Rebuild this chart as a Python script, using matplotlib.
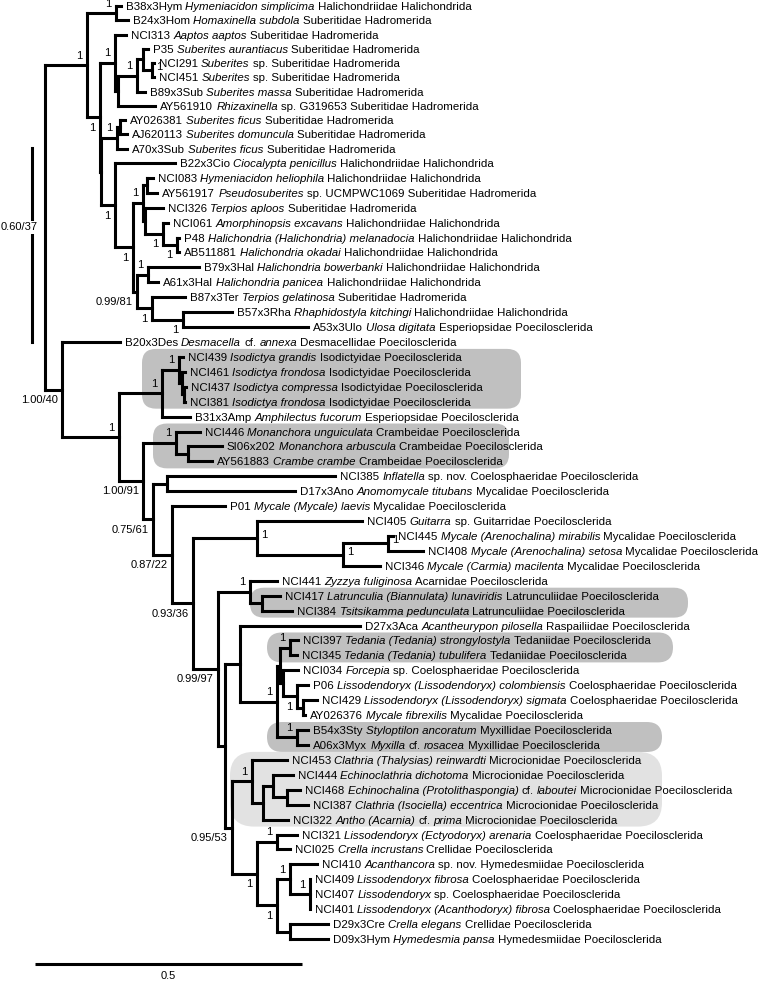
import matplotlib
matplotlib.use('Agg')
import matplotlib.pyplot as plt
from matplotlib.patches import FancyBboxPatch
from matplotlib.collections import LineCollection

plt.rcParams['font.family'] = ['Liberation Sans', 'DejaVu Sans']

# ---------------- data ----------------
leaf_code = ['B38x3Hym', 'B24x3Hom', 'NCI313', 'P35', 'NCI291', 'NCI451', 'B89x3Sub', 'AY561910',
             'AY026381', 'AJ620113', 'A70x3Sub', 'B22x3Cio', 'NCI083', 'AY561917', 'NCI326', 'NCI061',
             'P48', 'AB511881', 'B79x3Hal', 'A61x3Hal', 'B87x3Ter', 'B57x3Rha', 'A53x3Ulo', 'B20x3Des',
             'NCI439', 'NCI461', 'NCI437', 'NCI381', 'B31x3Amp', 'NCI446', 'SI06x202', 'AY561883',
             'NCI385', 'D17x3Ano', 'P01', 'NCI405', 'NCI445', 'NCI408', 'NCI346', 'NCI441',
             'NCI417', 'NCI384', 'D27x3Aca', 'NCI397', 'NCI345', 'NCI034', 'P06', 'NCI429',
             'AY026376', 'B54x3Sty', 'A06x3Myx', 'NCI453', 'NCI444', 'NCI468', 'NCI387', 'NCI322',
             'NCI321', 'NCI025', 'NCI410', 'NCI409', 'NCI407', 'NCI401', 'D29x3Cre', 'D09x3Hym']
leaf_taxon = ['*Hymeniacidon simplicima*', '*Homaxinella subdola*', '*Aaptos aaptos*', '*Suberites aurantiacus*',
              '*Suberites* sp.', '*Suberites* sp.', '*Suberites massa*', '*Rhizaxinella* sp. G319653',
              '*Suberites ficus*', '*Suberites domuncula*', '*Suberites ficus*', '*Ciocalypta penicillus*',
              '*Hymeniacidon heliophila*', '*Pseudosuberites* sp. UCMPWC1069', '*Terpios aploos*',
              '*Amorphinopsis excavans*', '*Halichondria (Halichondria) melanadocia*', '*Halichondria okadai*',
              '*Halichondria bowerbanki*', '*Halichondria panicea*', '*Terpios gelatinosa*',
              '*Rhaphidostyla kitchingi*', '*Ulosa digitata*', '*Desmacella* cf. *annexa*',
              '*Isodictya grandis*', '*Isodictya frondosa*', '*Isodictya compressa*', '*Isodictya frondosa*',
              '*Amphilectus fucorum*', '*Monanchora unguiculata*', '*Monanchora arbuscula*', '*Crambe crambe*',
              '*Inflatella* sp. nov.', '*Anomomycale titubans*', '*Mycale (Mycale) laevis*', '*Guitarra* sp.',
              '*Mycale (Arenochalina) mirabilis*', '*Mycale (Arenochalina) setosa*', '*Mycale (Carmia) macilenta*',
              '*Zyzzya fuliginosa*', '*Latrunculia (Biannulata) lunaviridis*', '*Tsitsikamma pedunculata*',
              '*Acantheurypon pilosella*', '*Tedania (Tedania) strongylostyla*', '*Tedania (Tedania) tubulifera*',
              '*Forcepia* sp.', '*Lissodendoryx (Lissodendoryx) colombiensis*', '*Lissodendoryx (Lissodendoryx) sigmata*',
              '*Mycale fibrexilis*', '*Styloptilon ancoratum*', '*Myxilla* cf. *rosacea*',
              '*Clathria (Thalysias) reinwardti*', '*Echinoclathria dichotoma*',
              '*Echinochalina (Protolithaspongia)* cf. *laboutei*', '*Clathria (Isociella) eccentrica*',
              '*Antho (Acarnia)* cf. *prima*', '*Lissodendoryx (Ectyodoryx) arenaria*', '*Crella incrustans*',
              '*Acanthancora* sp. nov.', '*Lissodendoryx fibrosa*', '*Lissodendoryx* sp.',
              '*Lissodendoryx (Acanthodoryx) fibrosa*', '*Crella elegans*', '*Hymedesmia pansa*']
leaf_family = ['Halichondriidae', 'Suberitidae', 'Suberitidae', 'Suberitidae', 'Suberitidae', 'Suberitidae',
               'Suberitidae', 'Suberitidae', 'Suberitidae', 'Suberitidae', 'Suberitidae', 'Halichondriidae',
               'Halichondriidae', 'Suberitidae', 'Suberitidae', 'Halichondriidae', 'Halichondriidae',
               'Halichondriidae', 'Halichondriidae', 'Halichondriidae', 'Suberitidae', 'Halichondriidae',
               'Esperiopsidae', 'Desmacellidae', 'Isodictyidae', 'Isodictyidae', 'Isodictyidae', 'Isodictyidae',
               'Esperiopsidae', 'Crambeidae', 'Crambeidae', 'Crambeidae', 'Coelosphaeridae', 'Mycalidae',
               'Mycalidae', 'Guitarridae', 'Mycalidae', 'Mycalidae', 'Mycalidae', 'Acarnidae', 'Latrunculiidae',
               'Latrunculiidae', 'Raspailiidae', 'Tedaniidae', 'Tedaniidae', 'Coelosphaeridae', 'Coelosphaeridae',
               'Coelosphaeridae', 'Mycalidae', 'Myxillidae', 'Myxillidae', 'Microcionidae', 'Microcionidae',
               'Microcionidae', 'Microcionidae', 'Microcionidae', 'Coelosphaeridae', 'Crellidae', 'Hymedesmiidae',
               'Coelosphaeridae', 'Coelosphaeridae', 'Coelosphaeridae', 'Crellidae', 'Hymedesmiidae']
leaf_order = (['Halichondrida'] + ['Hadromerida'] * 10 + ['Halichondrida'] * 2 + ['Hadromerida'] * 2
              + ['Halichondrida'] * 5 + ['Hadromerida', 'Halichondrida'] + ['Poecilosclerida'] * 42)
leaf_depth = [0.142, 0.155, 0.152, 0.193, 0.204, 0.204, 0.187, 0.206,
              0.150, 0.154, 0.154, 0.243, 0.202, 0.210, 0.221, 0.230,
              0.251, 0.251, 0.288, 0.212, 0.262, 0.350, 0.493, 0.140,
              0.258, 0.262, 0.264, 0.262, 0.272, 0.290, 0.331, 0.313,
              0.543, 0.468, 0.337, 0.594, 0.652, 0.708, 0.627, 0.434,
              0.440, 0.463, 0.590, 0.474, 0.472, 0.474, 0.493, 0.509,
              0.487, 0.493, 0.493, 0.453, 0.464, 0.478, 0.493, 0.455,
              0.472, 0.459, 0.509, 0.496, 0.496, 0.496, 0.530, 0.530]

node_name = ['R', 'T', 'N1', 'N2', 'C', 'G', 'D', 'E', 'F', 'H', 'S', 'S2', 'J', 'K', 'Lx', 'L1', 'L3',
             'M', 'N', 'P', 'Q1', 'Q2', 'Q3', 'P0', 'Q', 'IB', 'Iso', 'Iso2', 'Iso3', 'U', 'Cram', 'Cram2',
             'V', 'W', 'X', 'Y', 'Z', 'AA', 'AB', 'AC', 'AD', 'Lat', 'AE', 'AG', 'AF', 'TFL', 'Ted', 'FL',
             'Lis', 'Lis2', 'Myx', 'AH', 'MC', 'MC2', 'MC3', 'MC4', 'AI', 'AJ', 'AK', 'AL', 'AM', 'AN']
node_children = [['T', 'P0'], ['N1', 'N2'], ['B38x3Hym', 'B24x3Hom'], ['C', 'H'], ['NCI313', 'G'],
                 ['D', 'AY561910'], ['E', 'B89x3Sub'], ['P35', 'F'], ['NCI291', 'NCI451'], ['S', 'J'],
                 ['S2', 'A70x3Sub'], ['AY026381', 'AJ620113'], ['B22x3Cio', 'K'], ['Lx', 'P'], ['L1', 'L3'],
                 ['NCI083', 'AY561917'], ['NCI326', 'M'], ['NCI061', 'N'], ['P48', 'AB511881'], ['Q1', 'Q2'],
                 ['B79x3Hal', 'A61x3Hal'], ['B87x3Ter', 'Q3'], ['B57x3Rha', 'A53x3Ulo'], ['B20x3Des', 'Q'],
                 ['IB', 'U'], ['Iso', 'B31x3Amp'], ['NCI439', 'Iso2'], ['NCI461', 'Iso3'], ['NCI437', 'NCI381'],
                 ['Cram', 'V'], ['NCI446', 'Cram2'], ['SI06x202', 'AY561883'], ['W', 'X'], ['NCI385', 'D17x3Ano'],
                 ['P01', 'Y'], ['Z', 'AC'], ['NCI405', 'AA'], ['AB', 'NCI346'], ['NCI445', 'NCI408'],
                 ['AD', 'AE'], ['NCI441', 'Lat'], ['NCI417', 'NCI384'], ['AG', 'AH'], ['D27x3Aca', 'AF'],
                 ['TFL', 'Myx'], ['Ted', 'FL'], ['NCI397', 'NCI345'], ['NCI034', 'Lis'], ['P06', 'Lis2'],
                 ['NCI429', 'AY026376'], ['B54x3Sty', 'A06x3Myx'], ['MC', 'AI'], ['NCI453', 'MC2'],
                 ['MC3', 'NCI322'], ['NCI444', 'MC4'], ['NCI468', 'NCI387'], ['AJ', 'AK'], ['NCI321', 'NCI025'],
                 ['AL', 'AN'], ['NCI410', 'AM'], ['NCI409', 'NCI407', 'NCI401'], ['D29x3Cre', 'D09x3Hym']]
node_depth = [0.000, 0.079, 0.133, 0.103, 0.131, 0.137, 0.172, 0.184, 0.200, 0.105, 0.135, 0.140,
              0.131, 0.165, 0.184, 0.191, 0.187, 0.221, 0.247, 0.172, 0.193, 0.200, 0.258, 0.032,
              0.139, 0.219, 0.251, 0.257, 0.260, 0.184, 0.245, 0.268, 0.202, 0.228, 0.238, 0.277,
              0.397, 0.558, 0.642, 0.324, 0.384, 0.406, 0.337, 0.365, 0.434, 0.440, 0.459, 0.446,
              0.472, 0.483, 0.472, 0.350, 0.388, 0.408, 0.427, 0.453, 0.397, 0.434, 0.434, 0.459,
              0.496, 0.459]

support_node = ['R', 'N1', 'T', 'C', 'D', 'F', 'N2', 'S', 'J', 'Lx', 'K', 'M', 'N', 'Q1', 'P', 'Q2', 'Q3',
                'P0', 'Q', 'IB', 'Iso', 'U', 'Cram', 'V', 'X', 'Y', 'Z', 'AA', 'AB', 'AC', 'AD', 'Ted',
                'AF', 'Lis', 'Myx', 'MC', 'AH', 'AI', 'AJ', 'AL', 'AM', 'AK']
support_value = ['0.60/37', '1', '1', '1', '1', '1', '1', '1', '1', '1', '1', '1', '1', '1', '0.99/81', '1', '1',
                 '1.00/40', '1', '1', '1', '1.00/91', '1', '0.75/61', '0.87/22', '0.93/36', '1', '1', '1',
                 '0.99/97', '1', '1', '1', '1', '1', '1', '0.95/53', '1', '1', '1', '1', '1']
scale_length = 0.5

# ---------------- style / layout ----------------
label_side = {'R': 'l', 'F': 'r', 'Z': 'r', 'AA': 'r', 'AB': 'r',
              'N2': 'b', 'J': 'b', 'K': 'b', 'M': 'b', 'N': 'b', 'P': 'b', 'Q2': 'b', 'Q3': 'b',
              'P0': 'b', 'U': 'b', 'V': 'b', 'X': 'b', 'Y': 'b', 'AC': 'b', 'Lis': 'b', 'AH': 'b',
              'AI': 'b', 'AK': 'b'}
W_PX, H_PX = 760, 982
PX_PER_UNIT = 534.0
ROOT_PX = 45.0
ROW0_PX, ROW_PX = -1.3, 14.925   # regular row spacing
TOP_PX, TOP_ROWS = 6.0, 11       # first rows are packed a little tighter
FS = 8.25
FS_SUP = 8.0
LW = 2.2
MID = '#c0c0c0'
LIGHT = '#e2e2e2'
# shaded clades: first leaf, last leaf, left px, right px, radius px, colour
boxes = [(24, 27, 142, 521, 14, MID), (29, 31, 153, 509, 14, MID), (40, 41, 250, 688, 14, MID),
         (43, 44, 267, 673, 15, MID), (49, 50, 267, 662, 15, MID), (51, 55, 230, 662, 24, LIGHT)]


def row_px(i):
    if i >= TOP_ROWS:
        return ROW0_PX + ROW_PX * i
    end = ROW0_PX + ROW_PX * TOP_ROWS
    return TOP_PX + i * (end - TOP_PX) / TOP_ROWS


fig = plt.figure(figsize=(W_PX / 100, H_PX / 100), dpi=100)
bg = fig.add_axes([0, 0, 1, 1], zorder=0)
bg.set_xlim(0, W_PX)
bg.set_ylim(H_PX, 0)
bg.axis('off')
ax = fig.add_axes([0, 0, 1, 1], zorder=1)
ax.set_xlim(-ROOT_PX / PX_PER_UNIT, (W_PX - ROOT_PX) / PX_PER_UNIT)
ax.set_ylim(H_PX, 0)
ax.axis('off')
ax.patch.set_alpha(0)

depth = {c: d for c, d in zip(leaf_code, leaf_depth)}
depth.update({n: d for n, d in zip(node_name, node_depth)})
children = dict(zip(node_name, node_children))
ypos = {c: row_px(i) for i, c in enumerate(leaf_code)}


def get_y(n):
    if n not in ypos:
        ch = children[n]
        ypos[n] = 0.5 * (get_y(ch[0]) + get_y(ch[-1]))
    return ypos[n]


for n in node_name:
    get_y(n)

segs = []
for n in node_name:
    ch = children[n]
    segs.append([(depth[n], ypos[ch[0]]), (depth[n], ypos[ch[-1]])])
    for c in ch:
        if depth[c] > depth[n]:
            segs.append([(depth[n], ypos[c]), (depth[c], ypos[c])])
ax.add_collection(LineCollection(segs, colors='black', linewidths=LW, capstyle='projecting'))

# shaded boxes (pixel space)
for first, last, left, right, rad, col in boxes:
    top = ypos[leaf_code[first]] - 8
    bot = ypos[leaf_code[last]] + 7
    bg.add_patch(FancyBboxPatch((left, top), right - left, bot - top,
                                boxstyle=f'round,pad=0,rounding_size={rad}',
                                facecolor=col, edgecolor='none'))

SPACE = 0.278 * FS  # width of a space in points


def add_label(x, y, full):
    parts = full.split('*')
    prev = None
    for k, p in enumerate(parts):
        txt = p.strip()
        if not txt:
            continue
        style = 'italic' if k % 2 == 1 else 'normal'
        if prev is None:
            prev = ax.annotate(txt, xy=(x, y), xytext=(3.6, 0), textcoords='offset points',
                               ha='left', va='center_baseline', fontsize=FS, style=style)
        else:
            prev = ax.annotate(txt, xy=(1, 0), xycoords=prev, xytext=(SPACE, 0),
                               textcoords='offset points', ha='left', va='bottom',
                               fontsize=FS, style=style)


for c, tx, fam, order in zip(leaf_code, leaf_taxon, leaf_family, leaf_order):
    add_label(depth[c], ypos[c], f'{c} {tx} {fam} {order}')

pt = 0.72
for n, v in zip(support_node, support_value):
    side = label_side.get(n, 'a')
    kw = {}
    if side == 'a':
        off, ha = (-4.5 * pt, 9.5 * pt), 'right'
    elif side == 'b':
        off, ha = (-4.5 * pt, -10.5 * pt), 'right'
    elif side == 'r':
        off, ha = (4 * pt, 3 * pt), 'left'
    else:
        off, ha = (-7 * pt, 0), 'right'
        kw = dict(bbox=dict(boxstyle='square,pad=0.15', facecolor='white', edgecolor='none'))
    ax.annotate(v, xy=(depth[n], ypos[n]), xytext=off, textcoords='offset points',
                ha=ha, va='center', fontsize=FS_SUP, zorder=3, **kw)

# basal line left of the root
ax.plot([-13 / PX_PER_UNIT] * 2, [148, 342], color='black', lw=LW, solid_capstyle='projecting', zorder=2)

# scale bar
sb_x0 = -10 / PX_PER_UNIT
sb_y = 964
ax.plot([sb_x0, sb_x0 + scale_length], [sb_y, sb_y], color='black', lw=LW, solid_capstyle='butt')
ax.annotate(f'{scale_length}', xy=(sb_x0 + scale_length / 2, sb_y), xytext=(0, -12 * pt),
            textcoords='offset points', ha='center', va='center', fontsize=FS_SUP)

fig.savefig('out.png', dpi=100)
